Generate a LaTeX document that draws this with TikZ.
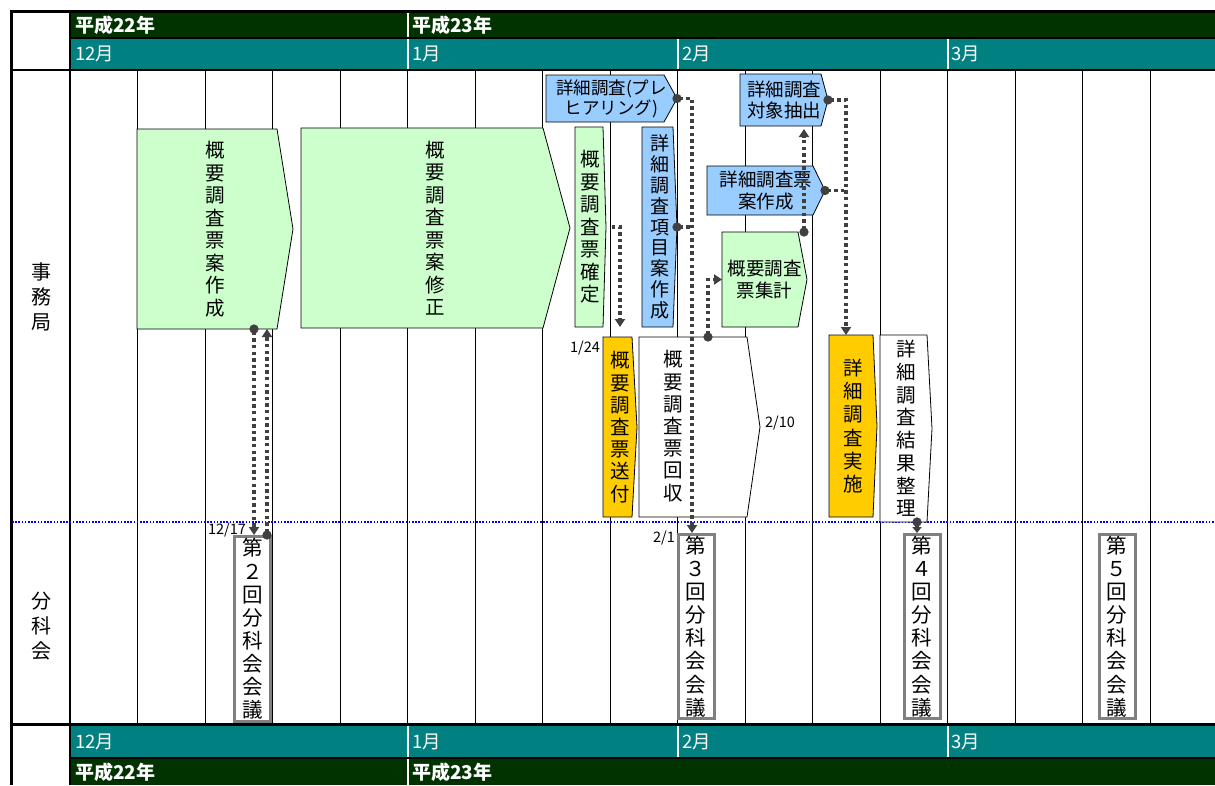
\documentclass[tikz,border=0pt]{standalone}
\usepackage{fontspec}
\setmainfont{Noto Sans CJK JP}
\usetikzlibrary{arrows.meta}

\definecolor{nengo}{HTML}{003300}
\definecolor{tsuki}{HTML}{008080}
\definecolor{midori}{HTML}{CCFFCC}
\definecolor{ao}{HTML}{99CCFF}
\definecolor{kiiro}{HTML}{FFCC00}
\definecolor{sen}{HTML}{404040}
\definecolor{kaiwaku}{HTML}{808080}

% pentagon box: [opts]{name}{fill}{left}{top}{tip x}{bottom}{tip depth}{text}
\newcommand{\pent}[9][]{%
  \filldraw[fill=#3,draw=black,line width=0.8pt] (#4,#5) -- ({#6-#8},#5) -- (#6,{(#5+#7)/2}) -- ({#6-#8},#7) -- (#4,#7) -- cycle;
  \node[vtext,minimum width={#6-#4},minimum height={#7-#5},anchor=north west,#1] (#2) at (#4,#5) {#9};
}

\begin{document}
\begin{tikzpicture}[x=1pt,y=-1pt,
  vtext/.style={align=center,inner sep=0pt,outer sep=0pt,font=\fontsize{19.5}{22.5}\selectfont},
  htext/.style={font=\fontsize{18.5}{21.5}\selectfont},
  kai/.style={draw=kaiwaku,line width=3pt,fill=white,minimum width=36pt,inner sep=0pt,align=center,font=\fontsize{20.5}{23.1}\selectfont},
  hiduke/.style={font=\fontsize{14.5}{14.5}\selectfont,inner sep=0pt},
  obi/.style={text=white,anchor=west,inner sep=0pt,font=\fontsize{18.5}{18.5}\selectfont},
  nen/.style={obi,font=\fontsize{19}{19}\selectfont\bfseries},
  conn/.style={draw=sen,line width=3.4pt,dash pattern=on 3.4pt off 3.2pt},
  dot2tri/.style={conn,{Circle[length=9pt]}-{Triangle[length=8pt,width=10pt]},shorten <=-4.5pt},
  dot2line/.style={conn,{Circle[length=9pt]}-,shorten <=-4.5pt},
  line2tri/.style={conn,-{Triangle[length=8pt,width=10pt]}}]
\useasboundingbox (0,0) rectangle (1215,785);

\fill[nengo] (70,12) rectangle (1215,38);
\fill[tsuki] (70,38) rectangle (1215,70);
\fill[tsuki] (70,725) rectangle (1215,758);
\fill[nengo] (70,758) rectangle (1215,785);

\foreach \k in {1,...,16}
  \draw[line width=1pt] ({70+67.5*\k},70) -- ({70+67.5*\k},725);
\foreach \x in {407.5,677.5,947.5}{
  \draw[line width=1.8pt] (\x,70) -- (\x,725);
  \draw[white,line width=2pt] (\x,39) -- (\x,69);
  \draw[white,line width=2pt] (\x,726) -- (\x,757);
}
\draw[white,line width=2pt] (407.5,13) -- (407.5,37);
\draw[white,line width=2pt] (407.5,759) -- (407.5,785);

\draw[line width=3pt] (11,785) -- (11,11.5) -- (1215,11.5);
\draw[line width=2.4pt] (70,11) -- (70,785);
\draw[line width=2pt] (70,38) -- (1215,38);
\draw[line width=2.4pt] (11,70) -- (1215,70);
\draw[line width=3pt] (11,724.5) -- (1215,724.5);
\draw[line width=2pt] (70,758) -- (1215,758);

\node[nen] (h22) at (75,25) {平成22年};
\node[nen] (h23) at (412,25) {平成23年};
\node[obi] (m12) at (75,54) {12月};
\node[obi] (m1) at (412,54) {1月};
\node[obi] (m2) at (682,54) {2月};
\node[obi] (m3) at (951,54) {3月};
\node[obi] (bm12) at (75,742) {12月};
\node[obi] (bm1) at (412,742) {1月};
\node[obi] (bm2) at (682,742) {2月};
\node[obi] (bm3) at (951,742) {3月};
\node[nen] (bh22) at (75,772) {平成22年};
\node[nen] (bh23) at (412,772) {平成23年};

\node[vtext,font=\fontsize{20}{25}\selectfont] (jimu) at (41,297) {事\\務\\局};
\node[vtext,font=\fontsize{20}{25}\selectfont] (bunka) at (41,626) {分\\科\\会};

\draw[blue,line width=1.6pt,dash pattern=on 1.6pt off 1.6pt] (12,522) -- (1215,522);

\pent{gaiyo1}{midori}{137}{129}{293}{329}{16}{概\\要\\調\\査\\票\\案\\作\\成}
\pent{gaiyo2}{midori}{301}{128}{570}{328}{27}{概\\要\\調\\査\\票\\案\\修\\正}
\pent[font=\fontsize{17.5}{20}\selectfont]{prehear}{ao}{546}{75}{677}{122}{13}{詳細調査(プレ\\ヒアリング)}
\pent{kakutei}{midori}{575}{127}{606}{327}{3}{概\\要\\調\\査\\票\\確\\定}
\pent[font=\fontsize{19}{20.8}\selectfont]{shosai}{ao}{642}{127}{677}{327}{4}{詳\\細\\調\\査\\項\\目\\案\\作\\成}
\pent[htext]{taisho}{ao}{740}{74}{828}{126}{7}{詳細調査\\対象抽出}
\pent[htext]{hyoan}{ao}{707}{166}{825}{215}{12}{詳細調査票\\案作成}
\pent[htext]{shukei}{midori}{722}{232}{807}{327}{9}{概要調査\\票集計}
\pent[font=\fontsize{19.5}{22.2}\selectfont]{sofu}{kiiro}{603}{337}{637}{517}{5}{概\\要\\調\\査\\票\\送\\付}
\pent{kaishu}{white}{639}{337}{760}{517}{13}{}
\node[vtext,font=\fontsize{19.5}{22.2}\selectfont] (kaishutext) at (673,426) {概\\要\\調\\査\\票\\回\\収};
\pent[font=\fontsize{19.5}{23.3}\selectfont]{jisshi}{kiiro}{829}{335}{877}{517}{4}{詳\\細\\調\\査\\実\\施}
\pent[font=\fontsize{19.5}{22.7}\selectfont]{seiri}{white}{880}{335}{932}{522}{5}{詳\\細\\調\\査\\結\\果\\整\\理}

\node[kai,minimum height=185pt] (kai2) at (252.5,629) {第\\２\\回\\分\\科\\会\\会\\議};
\node[kai,minimum height=184pt] (kai3) at (696,626.5) {第\\３\\回\\分\\科\\会\\会\\議};
\node[kai,minimum height=184pt] (kai4) at (922,626.5) {第\\４\\回\\分\\科\\会\\会\\議};
\node[kai,minimum height=184pt] (kai5) at (1117,626.5) {第\\５\\回\\分\\科\\会\\会\\議};

\node[hiduke] (d1217) at (227,530) {12/17};
\node[hiduke] (d124) at (585,348) {1/24};
\node[hiduke] (d21) at (664,538) {2/1};
\node[hiduke] (d210) at (780,423) {2/10};

\coordinate (c2a) at ([xshift=1.5pt]kai2.north);
\coordinate (c2b) at ([xshift=14.5pt]kai2.north);
\draw[dot2tri] (c2a |- gaiyo1.south) -- (c2a);
\draw[dot2tri] (c2b) -- (c2b |- gaiyo1.south);

\draw[line2tri,shorten <=6pt,shorten >=10pt] (kakutei.east) -| (sofu.north);

\coordinate (trunk3) at ([xshift=-4pt]kai3.north);
\draw[dot2tri] (prehear.east) -| (trunk3);
\draw[dot2line] (shosai.east) -- (shosai.east -| trunk3);

\draw[dot2tri] (kaishu.north -| 708,0) |- (shukei.west);
\draw[dot2tri,shorten >=3pt] (shukei.north -| 804,0) -- (taisho.south -| 804,0);

\coordinate (trunk4) at ([xshift=-7pt]jisshi.north);
\draw[dot2tri] (taisho.east) -| (trunk4);
\draw[dot2line] (hyoan.east) -- (hyoan.east -| trunk4);

\coordinate (c4) at ([xshift=-5pt]kai4.north);
\draw[conn,{Circle[length=9pt]}-{Triangle[length=6pt,width=9pt]},shorten <=-4.5pt] (c4 |- seiri.south) -- (c4);
\end{tikzpicture}
\end{document}
